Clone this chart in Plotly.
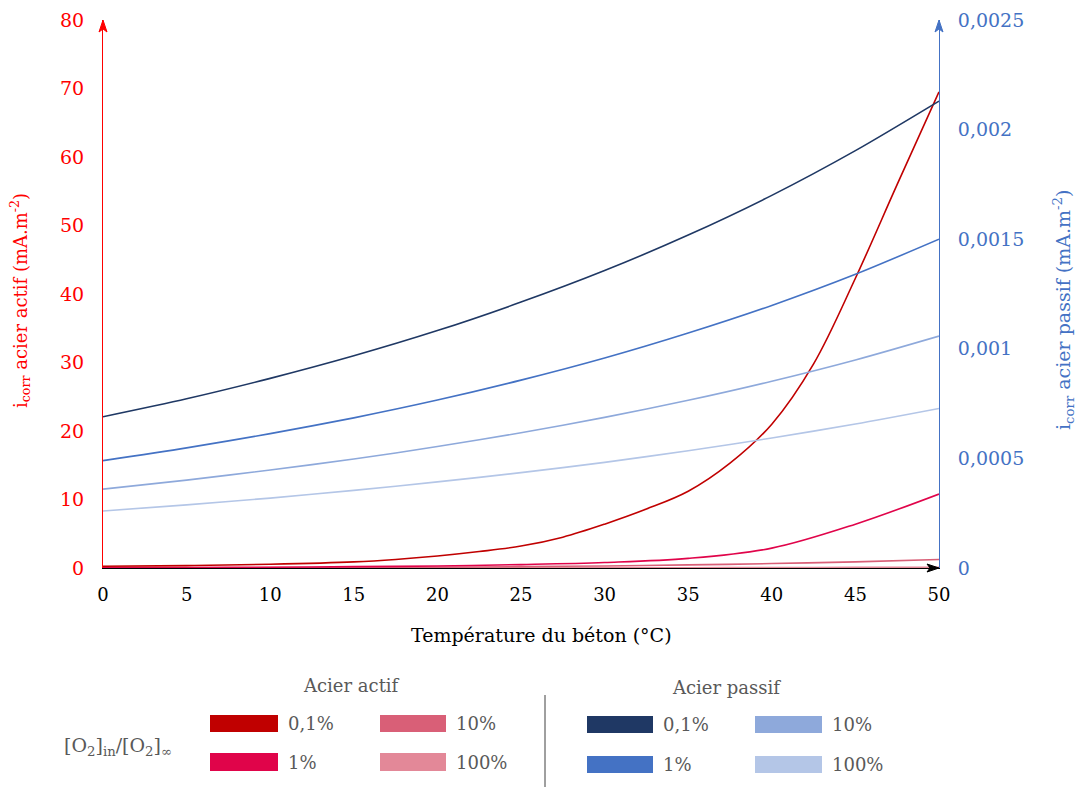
import plotly.graph_objects as go

# ---------------- data ----------------
temp = [0, 5, 10, 15, 20, 25, 30, 35, 40, 45, 50]
temp_fine = [0, 5, 10, 15, 17.5, 20, 22.5, 25, 27.5, 30, 32.5, 35, 37.5, 40, 42.5, 45, 47.5, 50]

# active steel (left axis, mA.m-2)
actif_01 = [0.25, 0.35, 0.55, 0.9, 1.25, 1.75, 2.4, 3.2, 4.5, 6.4, 8.6, 11.2, 15.3, 21.0, 29.8, 42.3, 56.0, 69.5]
actif_1 = [0.05, 0.08, 0.12, 0.2, 0.3, 0.5, 0.8, 1.4, 2.9, 6.4, 10.8]
actif_10 = [0.02, 0.03, 0.05, 0.08, 0.12, 0.2, 0.3, 0.45, 0.65, 0.9, 1.25]
actif_100 = [0.002, 0.003, 0.005, 0.008, 0.012, 0.02, 0.03, 0.045, 0.065, 0.09, 0.12]

# passive steel (right axis, mA.m-2)
passif_01 = [0.00069, 0.000772, 0.000865, 0.000968, 0.001083, 0.001213, 0.001357, 0.001519, 0.0017, 0.001904, 0.00213]
passif_1 = [0.00049, 0.000548, 0.000613, 0.000685, 0.000766, 0.000857, 0.000958, 0.001072, 0.001198, 0.00134, 0.0015]
passif_10 = [0.00036, 0.000401, 0.000447, 0.000497, 0.000554, 0.000617, 0.000687, 0.000765, 0.000852, 0.000949, 0.001058]
passif_100 = [0.00026, 0.000288, 0.000319, 0.000354, 0.000393, 0.000435, 0.000482, 0.000535, 0.000593, 0.000657, 0.000728]

x_ticks = [0, 5, 10, 15, 20, 25, 30, 35, 40, 45, 50]
y1_ticks = [0, 10, 20, 30, 40, 50, 60, 70, 80]
y2_ticks = [0, 0.0005, 0.001, 0.0015, 0.002, 0.0025]
y2_labels = ["0", "0,0005", "0,001", "0,0015", "0,002", "0,0025"]

legend_labels = ["0,1%", "1%", "10%", "100%"]
col_actif = ["#C00000", "#E0044A", "#D95F77", "#E38898"]
col_passif = ["#1F3864", "#4472C4", "#8EA9DB", "#B4C6E7"]

# ---------------- figure ----------------
OFF = 8  # page body margin
W, H = 1083 - OFF, 787 - OFF
PL, PT, PR, PB = 103, 20, 939, 568  # plot area in page pixels
PW, PH = PR - PL, PB - PT
L, T = PL - OFF, PT - OFF
R, B = W - L - PW, H - T - PH
FONT = "DejaVu Serif"
GRAY = "#595959"


def px(xp):
    return (xp - PL) / PW


def py(yp):
    return (PB - yp) / PH


fig = go.Figure()

actif_series = [(temp_fine, actif_01), (temp, actif_1), (temp, actif_10), (temp, actif_100)]
passif_series = [passif_01, passif_1, passif_10, passif_100]

for (xs, ys), c, lab in zip(actif_series[::-1], col_actif[::-1], legend_labels[::-1]):
    fig.add_trace(go.Scatter(x=xs, y=ys, mode="lines", line=dict(color=c, width=1.6, shape="spline", smoothing=1.0),
                             name="Acier actif " + lab, yaxis="y"))
for ys, c, lab in zip(passif_series, col_passif, legend_labels):
    fig.add_trace(go.Scatter(x=temp, y=ys, mode="lines", line=dict(color=c, width=1.6, shape="spline", smoothing=0.8),
                             name="Acier passif " + lab, yaxis="y2"))

fig.update_layout(
    width=W, height=H,
    margin=dict(l=L, r=R, t=T, b=B, autoexpand=False),
    paper_bgcolor="white", plot_bgcolor="white",
    showlegend=False,
    font=dict(family=FONT, size=18, color="black"),
    xaxis=dict(range=[0, 50], tickvals=x_ticks, showgrid=False, zeroline=False,
               showline=True, linecolor="#000000", linewidth=1,
               ticks="outside", ticklen=10, tickcolor="rgba(0,0,0,0)",
               tickfont=dict(family=FONT, size=18, color="black")),
    yaxis=dict(range=[0, 80], tickvals=y1_ticks, showgrid=False, zeroline=False,
               showline=True, linecolor="#FF0000", linewidth=1,
               ticks="outside", ticklen=14, tickcolor="rgba(0,0,0,0)",
               tickfont=dict(family=FONT, size=19, color="#FF0000")),
    yaxis2=dict(range=[0, 0.0025], tickvals=y2_ticks, ticktext=y2_labels, overlaying="y", side="right",
                showgrid=False, zeroline=False, showline=True, linecolor="#4472C4", linewidth=1,
                ticks="outside", ticklen=14, tickcolor="rgba(0,0,0,0)",
                tickfont=dict(family=FONT, size=19, color="#4472C4")),
)

ann = []
shapes = []

# axis arrowheads (pixel-sized stealth heads anchored at axis ends)
up_head = "M -4,-12 L 0,0 L 4,-12 L 0,-9 Z"
right_head = "M -12,-4 L 0,0 L -12,4 L -9,0 Z"
for xa, ya, path, col in ((0, 1, up_head, "#FF0000"), (1, 1, up_head, "#4472C4"), (1, 0, right_head, "#000000")):
    shapes.append(dict(type="path", xref="paper", yref="paper", xsizemode="pixel", ysizemode="pixel",
                       xanchor=xa, yanchor=ya, path=path, fillcolor=col, line=dict(color=col, width=1)))

# axis titles
ann.append(dict(x=px(20), y=py(301), xref="paper", yref="paper", textangle=-90, showarrow=False,
                text="i<sub>corr</sub> acier actif (mA.m<sup>-2</sup>)",
                font=dict(family=FONT, size=18, color="#FF0000"), xanchor="center", yanchor="middle"))
ann.append(dict(x=px(1063), y=py(310), xref="paper", yref="paper", textangle=-90, showarrow=False,
                text="i<sub>corr</sub> acier passif (mA.m<sup>-2</sup>)",
                font=dict(family=FONT, size=19, color="#4472C4"), xanchor="center", yanchor="middle"))
ann.append(dict(x=px(541), y=py(635), xref="paper", yref="paper", showarrow=False,
                text="Température du béton (°C)",
                font=dict(family=FONT, size=19, color="black"), xanchor="center", yanchor="middle"))

# legend texts
ann.append(dict(x=px(351), y=py(685), xref="paper", yref="paper", showarrow=False, text="Acier actif",
                font=dict(family=FONT, size=18, color=GRAY), xanchor="center", yanchor="middle"))
ann.append(dict(x=px(726), y=py(687), xref="paper", yref="paper", showarrow=False, text="Acier passif",
                font=dict(family=FONT, size=18, color=GRAY), xanchor="center", yanchor="middle"))
ann.append(dict(x=px(118), y=py(746), xref="paper", yref="paper", showarrow=False,
                text="[O<sub>2</sub>]<sub>in</sub>/[O<sub>2</sub>]<sub>∞</sub>",
                font=dict(family=FONT, size=19, color=GRAY), xanchor="center", yanchor="middle"))

shapes.append(dict(type="line", xref="paper", yref="paper", x0=px(545), x1=px(545), y0=py(695), y1=py(787),
                   line=dict(color="#404040", width=1)))

# swatch grid: (x_left, x_right) per column, (y_top, y_bottom) per row
cols_actif = [(210, 278), (380, 446)]
cols_passif = [(587, 653), (755, 822)]
rows_actif = [(715, 732), (753, 771)]
rows_passif = [(716, 733), (756, 773)]
order = [(0, 0), (1, 0), (0, 1), (1, 1)]  # (row, col) for 0,1% / 1% / 10% / 100%

for i, (r, c) in enumerate(order):
    for cols, rows, colors in ((cols_actif, rows_actif, col_actif), (cols_passif, rows_passif, col_passif)):
        x0, x1 = cols[c]
        y0, y1 = rows[r]
        shapes.append(dict(type="rect", xref="paper", yref="paper", x0=px(x0), x1=px(x1), y0=py(y1), y1=py(y0),
                           fillcolor=colors[i], line=dict(width=0)))
        ann.append(dict(x=px(x1 + 8), y=py((y0 + y1) / 2), xref="paper", yref="paper", showarrow=False,
                        text=legend_labels[i], font=dict(family=FONT, size=18, color=GRAY),
                        xanchor="left", yanchor="middle"))

fig.update_layout(annotations=ann, shapes=shapes)
fig.write_html("out.html")
